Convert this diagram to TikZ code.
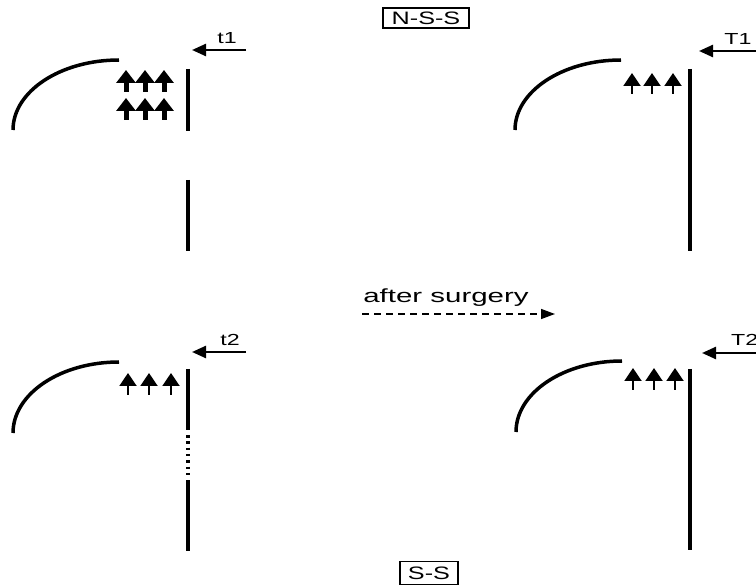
\documentclass[tikz,border=0pt]{standalone}
\usepackage{fontspec}
\setmainfont{Liberation Sans}
\usetikzlibrary{arrows.meta}
\tikzset{
  wall/.style={line width=4pt},
  lid/.style={line width=3.5pt},
  flowarrow/.style={line width=2.4pt,-{Triangle[length=14pt,width=12pt]}},
  thickup/.style={line width=5pt,-{Triangle[length=13pt,width=19pt]}},
  thinup/.style={line width=2pt,-{Triangle[length=13pt,width=17pt]}},
  tlabel/.style={inner sep=0pt,font=\fontsize{16}{16}\selectfont},
  boxlabel/.style={draw,line width=1.5pt,inner sep=0pt,font=\fontsize{18}{18}\selectfont},
}
\newcommand{\wide}[1]{\scalebox{1.45}[1]{#1}}
\begin{document}
\begin{tikzpicture}[x=1pt,y=-1pt]
\useasboundingbox (0,0) rectangle (756,588);
\fill[white] (0,0) rectangle (756,588);

% titles
\node[boxlabel,minimum width=86pt,minimum height=20pt] (nss) at (426,18) {\scalebox{1.4}[1]{N-S-S}};
\node[boxlabel,minimum width=58pt,minimum height=23pt] (ss) at (429,573) {\scalebox{1.4}[1]{S-S}};

% after surgery
\node[inner sep=0pt,font=\fontsize{19}{19}\selectfont] (as) at (446,298) {\scalebox{1.55}[1]{after surgery}};
\coordinate (asa) at (362,314);
\coordinate (asb) at (555,314);
\draw[line width=1.4pt,dash pattern=on 7pt off 5pt,-{Triangle[length=14pt,width=10pt]}] (asa) -- (asb);

% ---------- top left ----------
\draw[lid] (13,130) arc[start angle=180,end angle=270,x radius=106,y radius=70];
\draw[wall] (188,69) -- (188,131);
\draw[wall] (188,180) -- (188,251);
\coordinate (t1a) at (246,50);
\coordinate (t1b) at (192,50);
\draw[flowarrow] (t1a) -- (t1b);
\node[tlabel] (t1) at (227,38) {\wide{t1}};
\foreach \x in {126,145,164}{
  \draw[thickup] (\x,92) -- (\x,70);
  \draw[thickup] (\x,120) -- (\x,98);
}

% ---------- top right ----------
\draw[lid] (515,130) arc[start angle=180,end angle=270,x radius=106,y radius=70];
\draw[wall] (690,69) -- (690,251);
\coordinate (T1a) at (756,51);
\coordinate (T1b) at (699,51);
\draw[flowarrow] (T1a) -- (T1b);
\node[tlabel] (T1) at (738,39) {\wide{T1}};
\foreach \x in {632,652,673}{
  \draw[thinup] (\x,94) -- (\x,73);
}

% ---------- bottom left ----------
\draw[lid] (13,433) arc[start angle=180,end angle=270,x radius=106,y radius=71];
\draw[wall] (188,369) -- (188,430);
\draw[line width=4pt,dash pattern=on 2.5pt off 3.8pt] (188,435) -- (188,476);
\draw[wall] (188,480) -- (188,551);
\coordinate (t2a) at (246,352);
\coordinate (t2b) at (192,352);
\draw[flowarrow] (t2a) -- (t2b);
\node[tlabel] (t2) at (230,340) {\wide{t2}};
\foreach \x in {128,149,171}{
  \draw[thinup] (\x,395) -- (\x,373);
}

% ---------- bottom right ----------
\draw[lid] (516,432) arc[start angle=180,end angle=270,x radius=106,y radius=71];
\draw[wall] (690,369) -- (690,550);
\coordinate (T2a) at (760,353);
\coordinate (T2b) at (702,353);
\draw[flowarrow] (T2a) -- (T2b);
\node[tlabel,anchor=west] (T2) at (731,340) {\wide{T2}};
\foreach \x in {633,654,675}{
  \draw[thinup] (\x,390) -- (\x,368);
}
\end{tikzpicture}
\end{document}
